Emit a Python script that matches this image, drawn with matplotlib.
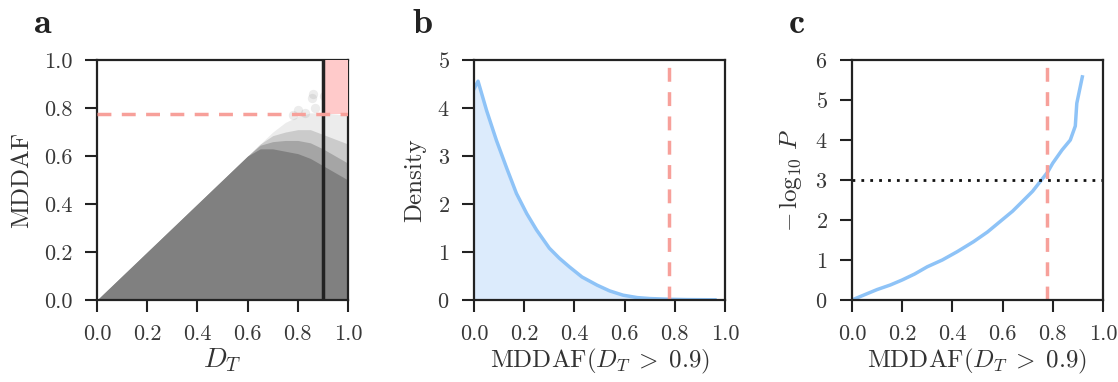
import matplotlib
matplotlib.use("Agg")
import matplotlib.pyplot as plt
import numpy as np

plt.rcParams['font.family'] = 'serif'
plt.rcParams['font.serif'] = ['cmr10', 'DejaVu Serif']
plt.rcParams['mathtext.fontset'] = 'cm'
plt.rcParams['axes.formatter.use_mathtext'] = True
plt.rcParams['axes.unicode_minus'] = False

# panel a: envelopes of the D_T / MDDAF cloud
cloud_x = [0.0, 0.55, 0.6, 0.65, 0.7, 0.75, 0.8, 0.85, 0.9, 0.95, 1.0]
cloud_solid = [0.0, 0.55, 0.6, 0.63, 0.63, 0.62, 0.61, 0.59, 0.56, 0.53, 0.5]
cloud_dense = [0.0, 0.55, 0.6, 0.645, 0.66, 0.665, 0.665, 0.655, 0.63, 0.6, 0.57]
cloud_mid = [0.0, 0.55, 0.6, 0.65, 0.685, 0.70, 0.71, 0.71, 0.69, 0.67, 0.65]
cloud_light = [0.0, 0.55, 0.6, 0.65, 0.7, 0.74, 0.765, 0.78, 0.78, 0.775, 0.77]
outlier_x = [0.86, 0.857, 0.956, 0.96, 0.928, 0.905, 0.985, 0.94, 0.87, 0.83,
             0.80, 0.78, 0.97, 0.92]
outlier_y = [0.86, 0.84, 0.87, 0.82, 0.82, 0.85, 0.79, 0.80, 0.80, 0.78,
             0.79, 0.77, 0.81, 0.79]
dt_cut = 0.9
mddaf_cut = 0.777

# panel b: density of MDDAF for D_T > 0.9
dens_x = [0.0, 0.016, 0.05, 0.089, 0.13, 0.169, 0.21, 0.249, 0.30, 0.34, 0.38,
          0.43, 0.49, 0.54, 0.594, 0.65, 0.70, 0.78, 0.85, 0.96]
dens_y = [4.4, 4.56, 3.95, 3.33, 2.75, 2.22, 1.8, 1.46, 1.08, 0.87, 0.69,
          0.48, 0.31, 0.19, 0.10, 0.05, 0.03, 0.015, 0.008, 0.004]

# panel c: -log10 P vs threshold
p_x = [0.0, 0.05, 0.1, 0.153, 0.2, 0.25, 0.30, 0.36, 0.42, 0.485, 0.54, 0.59,
       0.64, 0.685, 0.72, 0.75, 0.78, 0.80, 0.837, 0.87, 0.89, 0.896, 0.918]
p_y = [0.0, 0.13, 0.26, 0.375, 0.5, 0.65, 0.83, 1.0, 1.21, 1.46, 1.7, 1.96,
       2.22, 2.5, 2.72, 2.96, 3.2, 3.42, 3.75, 4.0, 4.35, 4.92, 5.58]
p_line = 3

grey = '#808080'
salmon = '#f7a09a'
blue = '#8ec3f7'
fill_blue = '#dcebfc'
ink = '#222222'

fig = plt.figure(figsize=(11.18, 3.82), dpi=100)
axa = fig.add_axes([0.0868, 0.2147, 0.2245, 0.628])
axb = fig.add_axes([0.424, 0.2147, 0.2245, 0.628])
axc = fig.add_axes([0.762, 0.2147, 0.2245, 0.628])

for ax in (axa, axb, axc):
    for s in ax.spines.values():
        s.set_linewidth(1.6)
        s.set_color(ink)
    ax.tick_params(direction='out', length=8.5, width=1.5, labelsize=16,
                   colors=ink, labelcolor='#383838', pad=9)
    ax.set_xlim(0, 1)
    ax.set_xticks([0, 0.2, 0.4, 0.6, 0.8, 1.0])
    ax.set_xticklabels(['0.0', '0.2', '0.4', '0.6', '0.8', '1.0'])

# a
axa.fill_between(cloud_x, 0, cloud_light, color=grey, alpha=0.15, lw=0)
axa.fill_between(cloud_x, 0, cloud_mid, color=grey, alpha=0.3, lw=0)
axa.fill_between(cloud_x, 0, cloud_dense, color=grey, alpha=0.5, lw=0)
axa.fill_between(cloud_x, 0, cloud_solid, color=grey, lw=0)
axa.scatter(outlier_x, outlier_y, s=45, color=grey, alpha=0.15, lw=0)
axa.fill_between([dt_cut, 1.0], mddaf_cut, 1.0, color='#ffcaca', lw=0, zorder=3)
axa.axvline(dt_cut, color=ink, lw=2.5, zorder=4)
axa.axhline(mddaf_cut, color=salmon, lw=2.5, ls=(0, (4, 3)), zorder=4)
axa.set_ylim(0, 1)
axa.set_yticks([0, 0.2, 0.4, 0.6, 0.8, 1.0])
axa.set_yticklabels(['0.0', '0.2', '0.4', '0.6', '0.8', '1.0'])
axa.set_xlabel(r'$D_T$', fontsize=20, labelpad=2, color='#333333')
axa.set_ylabel('MDDAF', fontsize=18, labelpad=8, color='#333333')

# b
axb.fill_between(dens_x, 0, dens_y, color=fill_blue, lw=0)
axb.plot(dens_x, dens_y, color=blue, lw=2.5)
axb.axvline(mddaf_cut, color=salmon, lw=2.5, ls=(0, (4, 3)), ymax=0.97)
axb.set_ylim(0, 5)
axb.set_yticks([0, 1, 2, 3, 4, 5])
axb.set_xlabel(r'MDDAF$(D_T\;>\;0.9)$', fontsize=18, labelpad=2, color='#333333')
axb.set_ylabel('Density', fontsize=18, labelpad=8, color='#333333')

# c
axc.plot(p_x, p_y, color=blue, lw=2.5)
axc.axhline(p_line, color='#111111', lw=2, ls=(0, (1, 2.2)))
axc.axvline(mddaf_cut, color=salmon, lw=2.5, ls=(0, (4, 3)), ymax=0.97)
axc.set_ylim(0, 6)
axc.set_yticks([0, 1, 2, 3, 4, 5, 6])
axc.set_xlabel(r'MDDAF$(D_T\;>\;0.9)$', fontsize=18, labelpad=2, color='#333333')
axc.set_ylabel(r'$-\,\log_{10}\,P$', fontsize=18, labelpad=8, color='#333333')

for x, lab in [(34, 'a'), (412, 'b'), (789, 'c')]:
    fig.text(x / 1118, 1 - 33 / 382, lab, fontsize=26, fontfamily='cmb10',
             color=ink, va='baseline')

fig.savefig('out.png', dpi=100)
